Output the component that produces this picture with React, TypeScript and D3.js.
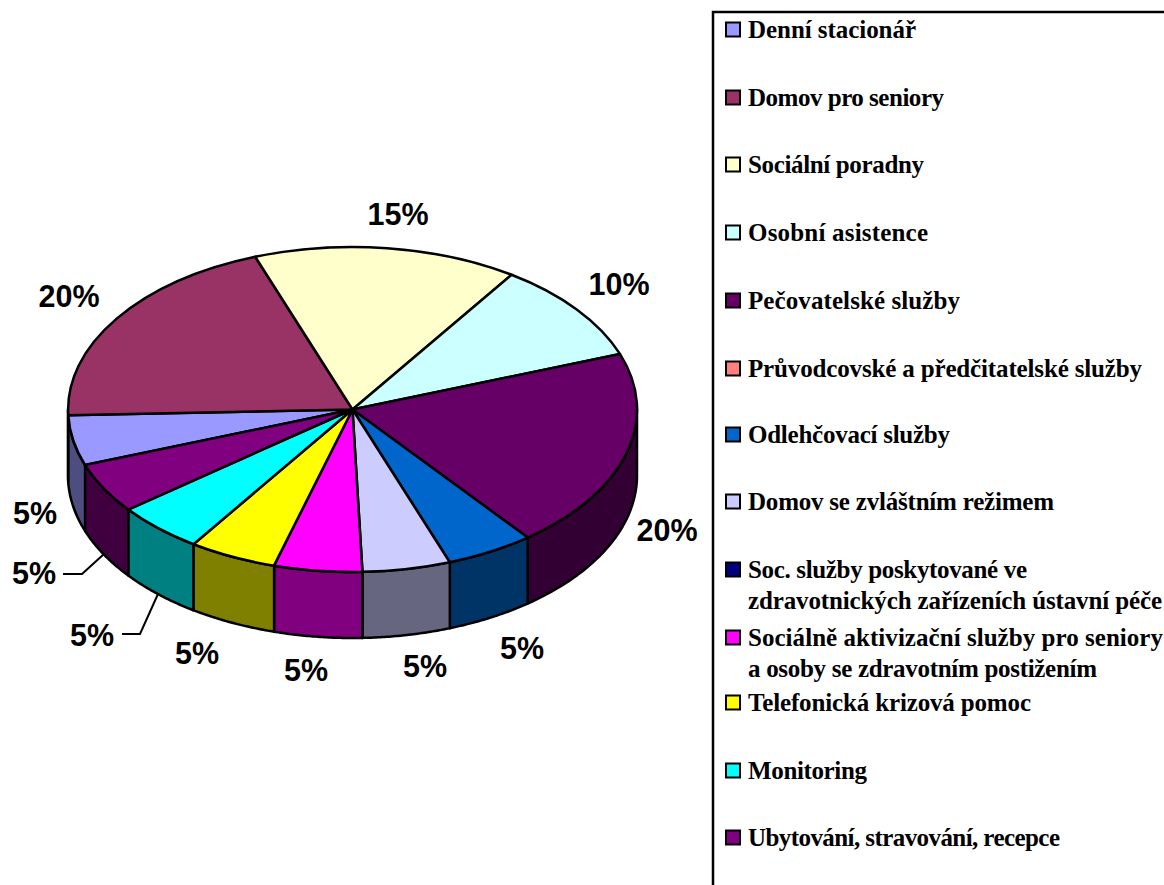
import * as d3 from 'd3'

const categories = [
  'Denní stacionář',
  'Domov pro seniory',
  'Sociální poradny',
  'Osobní asistence',
  'Pečovatelské služby',
  'Průvodcovské a předčitatelské služby',
  'Odlehčovací služby',
  'Domov se zvláštním režimem',
  'Soc. služby poskytované ve\nzdravotnických zařízeních ústavní péče',
  'Sociálně aktivizační služby pro seniory\na osoby se zdravotním postižením',
  'Telefonická krizová pomoc',
  'Monitoring',
  'Ubytování, stravování, recepce',
]
const shares = [5, 20, 15, 10, 20, 0, 5, 5, 0, 5, 5, 5, 5]
const topColors = ['#9999ff', '#993366', '#ffffcc', '#ccffff', '#660066', '#ff8080', '#0066cc', '#ccccff', '#000080', '#ff00ff', '#ffff00', '#00ffff', '#800080']
const wallColors = ['#4d4d80', '#4d1a33', '#808066', '#668080', '#330033', '#804040', '#003366', '#666680', '#000040', '#800080', '#808000', '#008080', '#400040']

// label anchors by slice index
const labelSpots: Record<number, [number, number]> = {
  0: [35, 513], 1: [69, 296], 2: [398, 214], 3: [619, 284], 4: [667, 530],
  6: [522, 648], 7: [425, 666], 9: [306, 670], 10: [197, 653], 11: [92, 635], 12: [34, 573],
}
const leaders = [
  { slice: 12, points: [[63, 574], [82, 574], [104, 554]] },
  { slice: 11, points: [[122, 634], [140, 634], [158, 594]] },
]
const legendRows = [30, 98, 165, 233, 301, 369, 435, 502, 570, 638, 703, 771, 838]
// rendered line widths in the legend, one list per entry
const legendWidths = [[168], [196], [176], [180], [212], [394], [202], [306], [279, 414], [415, 349], [283], [119], [312]]

const cx = 352.5
const cy = 409.5
const rx = 284.5
const ry = 162.5
const depth = 66
const start = (250 * Math.PI) / 180

const slices = d3.pie<number>().sort(null).startAngle(start).endAngle(start + 2 * Math.PI)(shares)
const topArc = d3.arc<d3.PieArcDatum<number>>().innerRadius(0).outerRadius(1)

const px = (t: number) => cx + rx * Math.sin(t)
const py = (t: number) => cy - ry * Math.cos(t)

// the rim is only visible on the front half of the disc
function wallPath(a0: number, a1: number) {
  const lo = Math.PI / 2
  const hi = (3 * Math.PI) / 2
  const pieces: string[] = []
  for (const shift of [0, 2 * Math.PI]) {
    const from = Math.max(a0, lo + shift)
    const to = Math.min(a1, hi + shift)
    if (to <= from) continue
    const ts = d3.range(0, 41).map(i => from + ((to - from) * i) / 40)
    const pts: [number, number][] = [
      ...ts.map(t => [px(t), py(t)] as [number, number]),
      ...ts.slice().reverse().map(t => [px(t), py(t) + depth] as [number, number]),
    ]
    pieces.push(d3.line()(pts) + 'Z')
  }
  return pieces.join('')
}

export default function App() {
  return (
    <svg width={1164} height={885} style={{ position: 'absolute', left: 0, top: 0, background: '#fff' }}>
      <g stroke="#000" strokeWidth={2.5} strokeLinejoin="round">
        {slices.map((s, i) => s.value > 0 && (
          <path key={i} d={wallPath(s.startAngle, s.endAngle)} fill={wallColors[i]} />
        ))}
      </g>
      <g transform={`translate(${cx},${cy}) scale(${rx},${ry})`}>
        {slices.map((s, i) => s.value > 0 && (
          <path key={i} d={topArc(s) as string} fill={topColors[i]} stroke="#000" strokeWidth={2.5} strokeLinejoin="round" vectorEffect="non-scaling-stroke" />
        ))}
      </g>
      {leaders.map(l => (
        <path key={l.slice} d={d3.line()(l.points as [number, number][]) as string} fill="none" stroke="#000" strokeWidth={2} />
      ))}
      <g fontFamily="'Liberation Sans', Arial, sans-serif" fontWeight="bold" fontSize={30.5} textAnchor="middle" fill="#000">
        {slices.map((s, i) => labelSpots[i] && (
          <text key={i} x={labelSpots[i][0]} y={labelSpots[i][1] + 11}>{s.value}%</text>
        ))}
      </g>
      <path d="M1164,12H713V885" fill="none" stroke="#000" strokeWidth={2.5} />
      <g fontFamily="'Liberation Serif', 'Times New Roman', serif" fontWeight="bold" fontSize={25} fill="#000">
        {categories.map((c, i) => (
          <g key={c} transform={`translate(0,${legendRows[i]})`}>
            <rect x={726} y={-7.5} width={14} height={14} fill={topColors[i]} stroke="#000" strokeWidth={2} />
            {c.split('\n').map((line, j) => (
              <text key={j} x={748} y={8 + j * 30.5} textLength={legendWidths[i][j]} lengthAdjust="spacing">{line}</text>
            ))}
          </g>
        ))}
      </g>
    </svg>
  )
}
